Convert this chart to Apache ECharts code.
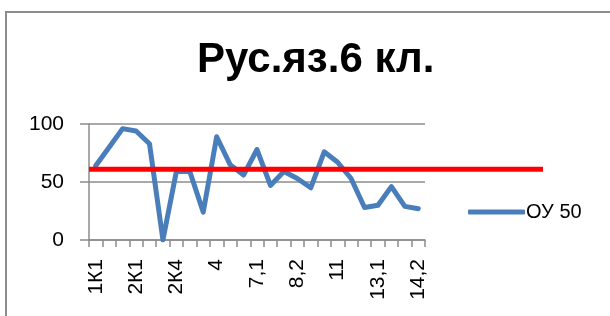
<!DOCTYPE html>
<html>
<head>
<meta charset="utf-8">
<script src="https://cdn.jsdelivr.net/npm/echarts@6/dist/echarts.min.js"></script>
<style>
  html, body { margin: 0; padding: 0; background: #fff; }
  #main { width: 610px; height: 316px; }
</style>
</head>
<body>
<div id="main"></div>
<script>
// категории (подписи по оси X)
var categories = ['1К1', '1К2', '1К3', '2К1', '2К2', '2К3', '2К4', '3', '3,1', '4', '5', '6',
    '7,1', '7,2', '8,1', '8,2', '9', '10', '11', '12', '13', '13,1', '13,2', '14,1', '14,2'];
// значения ОУ 50
var seriesName = 'ОУ 50';
var values = [64, 80, 96, 94, 83, 0, 59, 59, 24, 89, 65, 56, 78, 47, 59, 53, 45, 76, 67, 53, 28, 30, 46, 29, 27];
// красная линия (среднее)
var levelValue = 61;
var levelLine = [[0, levelValue], [1, levelValue]];
var yTicks = { min: 0, max: 100, interval: 50 };

var myChart = echarts.init(document.getElementById('main'));
var gridColor = '#8c8c8c';
var font = 'Liberation Sans';

var option = {
    backgroundColor: '#fff',
    animation: false,
    textStyle: { fontFamily: font },
    title: {
        text: 'Рус.яз.6 кл.',
        left: 192,
        top: 34,
        textStyle: { fontSize: 42, fontWeight: 'bold', color: '#000', fontFamily: font }
    },
    legend: {
        data: [seriesName],
        left: 463,
        top: 197,
        icon: 'roundRect',
        itemWidth: 57,
        itemHeight: 5,
        itemGap: 4,
        textStyle: { fontSize: 20, color: '#000', fontFamily: font, padding: [0, 0, 0, -4] }
    },
    graphic: [{
        type: 'rect',
        shape: { x: 6, y: 12, width: 700, height: 400 },
        style: { fill: 'none', stroke: gridColor, lineWidth: 2 },
        silent: true
    }],
    grid: [
        { left: 89, right: 185, top: 124, bottom: 76 },
        { left: 89, right: 67, top: 124, bottom: 76 }
    ],
    xAxis: [{
        type: 'category',
        gridIndex: 0,
        data: categories,
        boundaryGap: true,
        axisLine: { lineStyle: { color: gridColor, width: 1.5 } },
        axisTick: { show: true, interval: 0, length: 7, lineStyle: { color: gridColor, width: 1.5 } },
        axisLabel: { interval: 2, rotate: 90, fontSize: 21, color: '#000', margin: 19, fontFamily: font }
    }, {
        type: 'value',
        gridIndex: 1,
        min: 0,
        max: 1,
        show: false
    }],
    yAxis: [{
        type: 'value',
        gridIndex: 0,
        min: yTicks.min,
        max: yTicks.max,
        interval: yTicks.interval,
        axisLine: { show: true, lineStyle: { color: gridColor, width: 1.5 } },
        axisTick: { show: true, length: 9, lineStyle: { color: gridColor, width: 1.5 } },
        splitLine: { lineStyle: { color: gridColor, width: 1.5 } },
        axisLabel: { fontSize: 21, color: '#000', margin: 25, fontFamily: font }
    }, {
        type: 'value',
        gridIndex: 1,
        min: yTicks.min,
        max: yTicks.max,
        show: false
    }],
    series: [{
        name: seriesName,
        type: 'line',
        xAxisIndex: 0,
        yAxisIndex: 0,
        data: values,
        symbol: 'none',
        z: 3,
        lineStyle: { color: '#4a7ebb', width: 5, cap: 'round', join: 'round' },
        itemStyle: { color: '#4a7ebb' }
    }, {
        name: 'уровень',
        type: 'line',
        xAxisIndex: 1,
        yAxisIndex: 1,
        data: levelLine,
        symbol: 'none',
        z: 4,
        lineStyle: { color: '#ff0000', width: 5 },
        itemStyle: { color: '#ff0000' }
    }]
};

myChart.setOption(option);
</script>
</body>
</html>
